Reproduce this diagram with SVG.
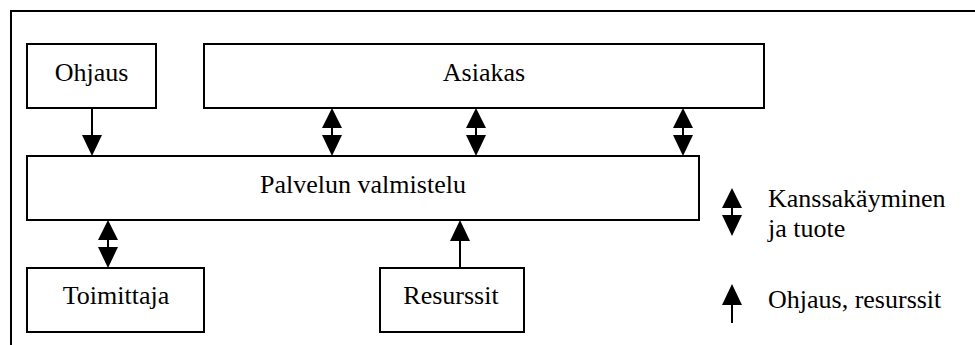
<svg xmlns="http://www.w3.org/2000/svg" width="975" height="345" viewBox="0 0 975 345">
<style>
.box{fill:#fff;stroke:#000;stroke-width:2}
.ln{stroke:#000;stroke-width:2;fill:none}
.hd{fill:#000;stroke:none}
text{font-family:"Liberation Serif","Times New Roman",serif;font-size:26px;fill:#000}
.c{text-anchor:middle}
</style>
<defs>
<g id="dbl">
<polygon class="hd" points="0,0 10,20 -10,20"/>
<line class="ln" x1="0" y1="20" x2="0" y2="28"/>
<polygon class="hd" points="-10,27 10,27 0,48"/>
</g>
<polygon id="up" class="hd" points="0,0 10,21 -10,21"/>
</defs>
<rect width="975" height="345" fill="#fff"/>
<g id="frame">
<path class="ln" d="M11,345 V11 H975"/>
</g>
<g id="ohjaus"><rect class="box" x="27" y="44" width="129" height="64"/><text class="c" x="91.5" y="81">Ohjaus</text></g>
<g id="asiakas"><rect class="box" x="204" y="44" width="560" height="64"/><text class="c" x="484" y="81">Asiakas</text></g>
<g id="palvelun"><rect class="box" x="27" y="156" width="672" height="64"/><text class="c" x="363" y="193">Palvelun valmistelu</text></g>
<g id="toimittaja"><rect class="box" x="27" y="268" width="177" height="64"/><text class="c" x="116" y="304">Toimittaja</text></g>
<g id="resurssit"><rect class="box" x="380" y="268" width="144" height="64"/><text class="c" x="451" y="304">Resurssit</text></g>
<g id="connectors">
<line class="ln" x1="92" y1="108" x2="92" y2="140"/>
<polygon class="hd" points="82,135 102,135 92,156"/>
<use href="#dbl" x="332" y="108"/>
<use href="#dbl" x="476" y="108"/>
<use href="#dbl" x="683" y="108"/>
<use href="#dbl" x="108" y="220"/>
<line class="ln" x1="460" y1="236" x2="460" y2="268"/>
<use href="#up" x="460" y="220"/>
</g>
<g id="legend">
<use href="#dbl" x="732" y="188"/>
<text x="768" y="207">Kanssakäyminen</text>
<text x="768" y="237">ja tuote</text>
<use href="#up" x="732" y="284"/>
<line class="ln" x1="732" y1="300" x2="732" y2="323"/>
<text x="768" y="308">Ohjaus, resurssit</text>
</g>
</svg>
